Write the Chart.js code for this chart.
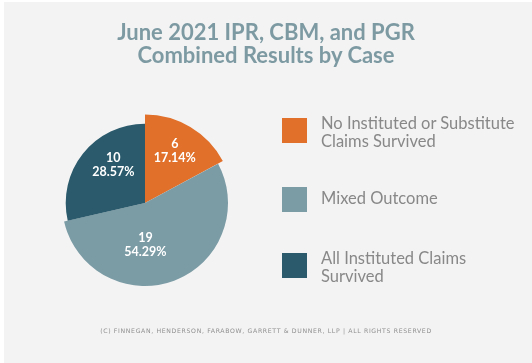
<!DOCTYPE html>
<html>
<head>
<meta charset="utf-8">
<script src="https://cdn.jsdelivr.net/npm/chart.js@4.4.1/dist/chart.umd.min.js"></script>
<style>
    html, body { margin: 0; padding: 0; background: #ffffff; }
    #frame {
        position: absolute; left: 4px; top: 2px; width: 528px; height: 361px;
        background: #f3f3f3; overflow: hidden;
    }
    #pieCanvas { position: absolute; left: -4px; top: -2px; }
    #title {
        position: absolute; left: 0; top: 18px; width: 524px; text-align: center;
        font-family: Lato, sans-serif; font-weight: 700; font-size: 22px; line-height: 23px;
        color: #7d9aa3;
    }
    #legend { position: absolute; left: 278px; top: 0; }
    .leg-item { position: absolute; left: 0; width: 240px; }
    .leg-box { position: absolute; left: 0; width: 25px; height: 25px; }
    .leg-text {
        position: absolute; left: 39px; font-family: Lato, sans-serif; font-size: 16.5px;
        line-height: 18px; color: #888888; white-space: nowrap;
    }
    #footer {
        position: absolute; left: 0; top: 325px; width: 524px; text-align: center;
        font-family: "DejaVu Sans", sans-serif; font-size: 6.2px; letter-spacing: 0.65px;
        color: #8f8f8f;
    }
</style>
</head>
<body>
<div id="frame">
    <canvas id="pieCanvas" width="532" height="363"></canvas>
    <div id="title">June 2021 IPR, CBM, and PGR<br>Combined Results by Case</div>
    <div id="legend"></div>
    <div id="footer">(C) FINNEGAN, HENDERSON, FARABOW, GARRETT &amp; DUNNER, LLP | ALL RIGHTS RESERVED</div>
</div>
<script>
// Chart data
const categories = [
    ['No Instituted or Substitute', 'Claims Survived'],
    ['Mixed Outcome'],
    ['All Instituted Claims', 'Survived']
];
const caseCounts = [6, 19, 10];
const sliceColors = ['#e0702a', '#7b9ba5', '#2a5a6b'];

const total = caseCounts.reduce((a, b) => a + b, 0);

// Slices are drawn a little bigger / smaller than each other in the original
const sliceRadiusScale = [1.065, 1, 0.955];
// Nudges for where the value labels sit (degrees, fraction of radius)
const labelAngleShift = [-1, 20, 12];
const labelDistance = [0.72, 0.5, 0.6];

const sliceSizePlugin = {
    id: 'sliceSize',
    beforeDatasetsDraw(chart) {
        const meta = chart.getDatasetMeta(0);
        meta.data.forEach((arc, i) => {
            if (arc._baseRadius === undefined) arc._baseRadius = arc.outerRadius;
            arc.outerRadius = arc._baseRadius * sliceRadiusScale[i];
        });
    }
};

const valueLabelPlugin = {
    id: 'valueLabels',
    afterDatasetsDraw(chart) {
        const ctx = chart.ctx;
        const meta = chart.getDatasetMeta(0);
        ctx.save();
        ctx.fillStyle = '#ffffff';
        ctx.font = '700 12.5px Lato, sans-serif';
        ctx.textAlign = 'center';
        ctx.textBaseline = 'middle';
        meta.data.forEach((arc, i) => {
            const mid = (arc.startAngle + arc.endAngle) / 2 + labelAngleShift[i] * Math.PI / 180;
            const r = arc._baseRadius * labelDistance[i];
            const x = arc.x + Math.cos(mid) * r;
            const y = arc.y + Math.sin(mid) * r;
            const pct = (caseCounts[i] / total * 100).toFixed(2) + '%';
            ctx.fillText(String(caseCounts[i]), x, y - 7);
            ctx.fillText(pct, x, y + 7);
        });
        ctx.restore();
    }
};

const chart = new Chart(document.getElementById('pieCanvas'), {
    type: 'pie',
    data: {
        labels: categories.map(c => c.join(' ')),
        datasets: [{
            data: caseCounts,
            backgroundColor: sliceColors,
            borderWidth: 0,
            radius: 83
        }]
    },
    options: {
        responsive: false,
        animation: false,
        layout: { padding: { left: 0, right: 242, top: 43, bottom: 0 } },
        plugins: {
            legend: { display: false },
            tooltip: { enabled: false }
        }
    },
    plugins: [sliceSizePlugin, valueLabelPlugin]
});

// HTML legend on the right
const legendTops = [116, 185, 251];
const legendEl = document.getElementById('legend');
categories.forEach((lines, i) => {
    const item = document.createElement('div');
    item.className = 'leg-item';
    item.style.top = legendTops[i] + 'px';
    const box = document.createElement('div');
    box.className = 'leg-box';
    box.style.background = sliceColors[i];
    const text = document.createElement('div');
    text.className = 'leg-text';
    text.style.top = (lines.length > 1 ? -4 : 2) + 'px';
    text.innerHTML = lines.join('<br>');
    item.appendChild(box);
    item.appendChild(text);
    legendEl.appendChild(item);
});
</script>
</body>
</html>
